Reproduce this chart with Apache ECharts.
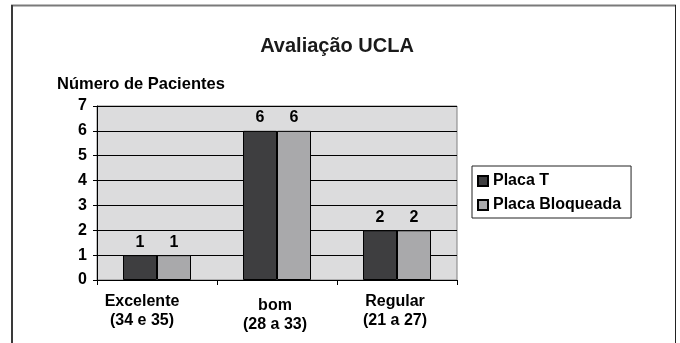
<!DOCTYPE html>
<html><head><meta charset="utf-8">
<script src="https://cdn.jsdelivr.net/npm/echarts@6/dist/echarts.min.js"></script>
<style>html,body{margin:0;padding:0;background:#fff}#c{width:680px;height:343px}</style>
</head><body><div id="c"></div>
<script>
const categories = ['Excelente\n(34 e 35)', 'bom\n(28 a 33)', 'Regular\n(21 a 27)'];
const placaT = [1, 6, 2];
const placaBloqueada = [1, 6, 2];
const seriesNames = ['Placa T', 'Placa Bloqueada'];
const yTicks = [0, 1, 2, 3, 4, 5, 6, 7];

// label nudges (as in the original image, first label sits left of its slot)
const labelPads = [[0, 30, 0, 0], [4, 4, 0, 0], [0, 4, 0, 0]];

const F = 'Liberation Sans, Arial, sans-serif';
const chart = echarts.init(document.getElementById('c'));
chart.setOption({
  animation: false,
  backgroundColor: '#fff',
  graphic: [
    { type: 'line', shape: { x1: 11, y1: 5.5, x2: 676, y2: 5.5 }, style: { stroke: '#7a7a7a', lineWidth: 2 }, silent: true, z: 100 },
    { type: 'line', shape: { x1: 12, y1: 5, x2: 12, y2: 343 }, style: { stroke: '#3a3a3a', lineWidth: 2 }, silent: true, z: 100 },
    { type: 'line', shape: { x1: 675.5, y1: 5, x2: 675.5, y2: 343 }, style: { stroke: '#222', lineWidth: 1 }, silent: true, z: 100 }
  ],
  title: {
    text: 'Avaliação UCLA', left: 332, top: 31, textAlign: 'center',
    textStyle: { fontFamily: F, fontSize: 20, fontWeight: 'bold', color: '#1a1a1a' }
  },
  legend: {
    orient: 'vertical', left: 472, top: 166, width: 160,
    padding: [7, 10, 5, 5], itemGap: 8,
    itemWidth: 10, itemHeight: 10, icon: 'rect',
    borderColor: '#222', borderWidth: 1,
    textStyle: { fontFamily: F, fontSize: 16, fontWeight: 'bold', color: '#000' },
    data: seriesNames
  },
  grid: { left: 97, right: 223, top: 106, bottom: 63, show: true, backgroundColor: '#dcdcdd', borderColor: '#808080', borderWidth: 1 },
  xAxis: {
    type: 'category',
    data: categories.map((c, i) => ({ value: c, textStyle: { padding: labelPads[i] } })),
    axisLine: { lineStyle: { color: '#000', width: 1 } },
    axisTick: { show: true, length: 5, lineStyle: { color: '#000' } },
    axisLabel: { fontFamily: F, fontSize: 16, fontWeight: 'bold', color: '#000', margin: 12, lineHeight: 19 }
  },
  yAxis: {
    type: 'value', min: yTicks[0], max: yTicks[yTicks.length - 1], interval: 1,
    name: 'Número de Pacientes', nameLocation: 'end', nameGap: 13,
    nameTextStyle: { fontFamily: F, fontSize: 16.5, fontWeight: 'bold', color: '#000', align: 'left', padding: [0, 0, 0, -40] },
    axisLine: { show: true, lineStyle: { color: '#000' } },
    axisTick: { show: true, length: 4, lineStyle: { color: '#000' } },
    axisLabel: { fontFamily: F, fontSize: 16, fontWeight: 'bold', color: '#000', margin: 10 },
    splitLine: { lineStyle: { color: '#000', width: 1 } }
  },
  series: [
    {
      name: seriesNames[0], type: 'bar', data: placaT, barWidth: 34, barGap: '0%',
      itemStyle: { color: '#3e3e40', borderColor: '#000', borderWidth: 1 },
      label: { show: true, position: 'top', distance: 5, fontFamily: F, fontSize: 16, fontWeight: 'bold', color: '#000' }
    },
    {
      name: seriesNames[1], type: 'bar', data: placaBloqueada, barWidth: 34, barGap: '0%',
      itemStyle: { color: '#a9a9ab', borderColor: '#000', borderWidth: 1 },
      label: { show: true, position: 'top', distance: 5, fontFamily: F, fontSize: 16, fontWeight: 'bold', color: '#000' }
    }
  ]
});
</script></body></html>
